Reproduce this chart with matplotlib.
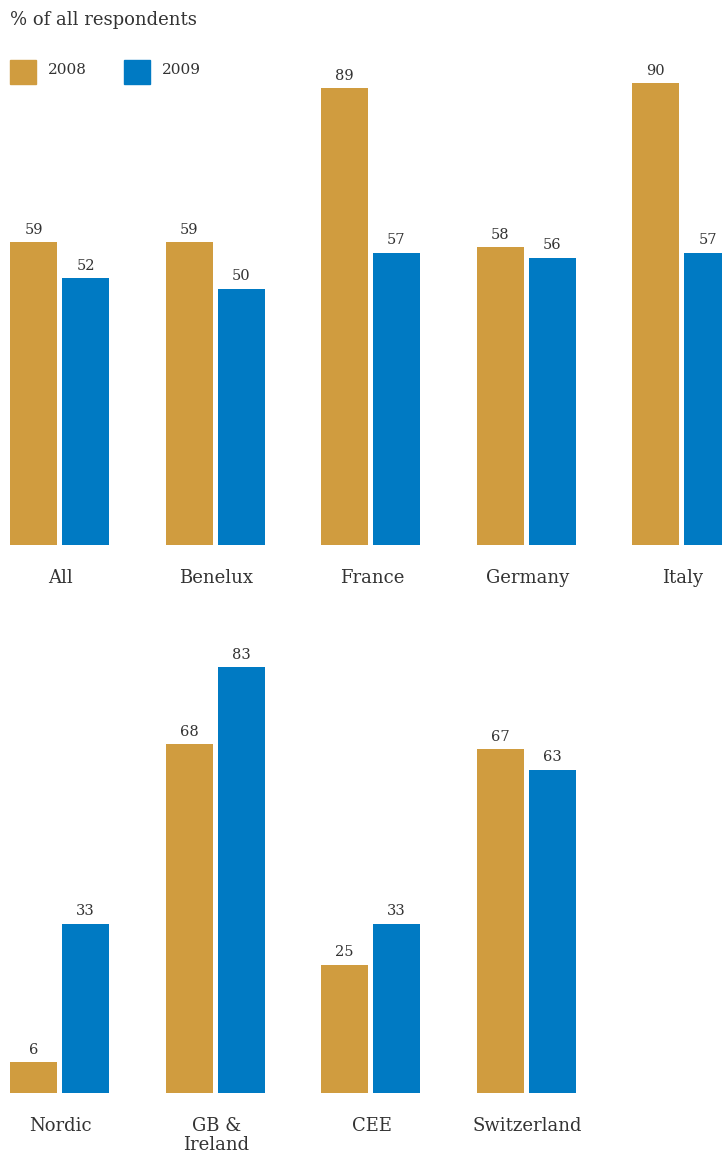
import matplotlib.pyplot as plt

top_regions = ["All", "Benelux", "France", "Germany", "Italy"]
top_2008 = [59, 59, 89, 58, 90]
top_2009 = [52, 50, 57, 56, 57]

bottom_regions = ["Nordic", "GB &\nIreland", "CEE", "Switzerland"]
bottom_2008 = [6, 68, 25, 67]
bottom_2009 = [33, 83, 33, 63]

years = ["2008", "2009"]
colors = ["#D09C3F", "#007AC3"]
text_color = "#333333"

plt.rcParams["font.family"] = ["DejaVu Serif"]

W, H = 722, 1151
fig = plt.figure(figsize=(W / 100, H / 100), dpi=100)

px_per_unit = 5.13
spacing = 155.5
first_center = 59.5
bar_w = 47 / spacing
offset = 26 / spacing


def make_axes(baseline, top_px):
    ax = fig.add_axes([0, 1 - baseline / H, 1, (baseline - top_px) / H])
    ax.set_xlim(-first_center / spacing, (W - first_center) / spacing)
    ax.set_ylim(0, (baseline - top_px) / px_per_unit)
    ax.axis("off")
    return ax


def draw_row(ax, regions, v1, v2):
    xs = list(range(len(regions)))
    b1 = ax.bar([x - offset for x in xs], v1, width=bar_w, color=colors[0])
    b2 = ax.bar([x + offset for x in xs], v2, width=bar_w, color=colors[1])
    for bars in (b1, b2):
        for rect in bars:
            h = rect.get_height()
            ax.annotate(f"{h:.0f}", (rect.get_x() + rect.get_width() / 2, h),
                        xytext=(0, 4), textcoords="offset points",
                        ha="center", va="bottom", fontsize=10.5, color=text_color)
    for x, name in zip(xs, regions):
        ax.annotate(name, (x, 0), xytext=(1, -17), textcoords="offset points",
                    ha="center", va="top", fontsize=13, color=text_color,
                    linespacing=1.1, annotation_clip=False)


ax1 = make_axes(545, 40)
draw_row(ax1, top_regions, top_2008, top_2009)

ax2 = make_axes(1093, 600)
draw_row(ax2, bottom_regions, bottom_2008, bottom_2009)

# title and legend
fig.text(10 / W, 1 - 20 / H, "% of all respondents", ha="left", va="center",
         fontsize=13, color=text_color)
for x0, label, c in [(10, years[0], colors[0]), (124, years[1], colors[1])]:
    fig.patches.append(plt.Rectangle((x0 / W, 1 - 84 / H), 26 / W, 24 / H,
                                     transform=fig.transFigure, color=c))
    fig.text((x0 + 38) / W, 1 - 70 / H, label, ha="left", va="center",
             fontsize=11, color=text_color)

fig.savefig("out.png", dpi=100)
